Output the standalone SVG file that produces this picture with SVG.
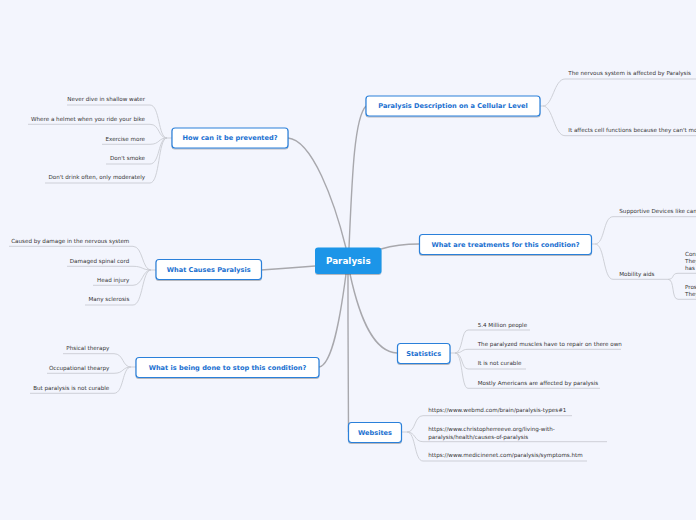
<svg xmlns="http://www.w3.org/2000/svg" width="696" height="520" viewBox="0 0 696 520">
<defs>
<filter id="sh" x="-10%" y="-30%" width="120%" height="170%">
<feDropShadow dx="0" dy="1" stdDeviation="0.7" flood-color="#000" flood-opacity="0.25"/>
</filter>
</defs>
<style>
.main{fill:#fff;stroke:#2b80da;stroke-width:1.2}
.mt{font-family:"DejaVu Sans",Verdana,sans-serif;font-weight:bold;font-size:6.6px;fill:#1a70d0;text-anchor:middle}
.st{font-family:"DejaVu Sans",Verdana,sans-serif;font-size:5.6px;fill:#333}
.r{text-anchor:end}
.mc{fill:none;stroke:#a8a8ad;stroke-width:1.4}
.sc{fill:none;stroke:#c9ccd3;stroke-width:0.9}
</style>
<rect width="696" height="520" fill="#f3f5fd"/>
<g id="connectors">
<path class="mc" d="M349,248 C352,180 354,118 366,106"/>
<path class="mc" d="M288,138 C312,140 334,200 346,248"/>
<path class="mc" d="M381,249 Q398,244 419,244"/>
<path class="mc" d="M261,270 Q290,268 315,266"/>
<path class="mc" d="M319,367 C332,365 340,320 346,274"/>
<path class="mc" d="M350,274 C360,320 374,352 397,353"/>
<path class="mc" d="M348,274 C348,330 348,400 348.5,432"/>
<path class="sc" d="M67,105 H150 C160,105 158,138 167,138 H172"/>
<path class="sc" d="M28,124.3 H150 C160,124.3 158,138 167,138"/>
<path class="sc" d="M102,144.3 H150 C160,144.3 158,138 167,138"/>
<path class="sc" d="M106,164 H150 C160,164 158,138 167,138"/>
<path class="sc" d="M45,183 H150 C160,183 158,138 167,138"/>
<path class="sc" d="M9,246.3 H133 C143,246.3 142,270 151,270 H156"/>
<path class="sc" d="M67,266.3 H133 C143,266.3 142,270 151,270"/>
<path class="sc" d="M93,285.3 H133 C143,285.3 142,270 151,270"/>
<path class="sc" d="M85,305 H133 C143,305 142,270 151,270"/>
<path class="sc" d="M63,353.7 H114 C124,353.7 122,367 131,367 H136"/>
<path class="sc" d="M47,373.3 H114 C124,373.3 122,367 131,367"/>
<path class="sc" d="M30,393.3 H114 C124,393.3 122,367 131,367"/>
<path class="sc" d="M540,106 H543 C553,106 554,79 565,79 H696"/>
<path class="sc" d="M543,106 C553,106 554,135.7 565,135.7 H696"/>
<path class="sc" d="M592,244 H595 C605,244 603,216.7 613,216.7 H696"/>
<path class="sc" d="M595,244 C605,244 603,279.3 613,279.3 H668 C675,279.3 671,273.3 678,273.3 H696"/>
<path class="sc" d="M668,279.3 C675,279.3 671,299.3 678,299.3 H696"/>
<path class="sc" d="M450,353 H455 C463,353 461,330 468,330 H530"/>
<path class="sc" d="M455,353 C463,353 461,349.3 468,349.3 H621"/>
<path class="sc" d="M455,353 C463,353 461,369 468,369 H526"/>
<path class="sc" d="M455,353 C463,353 461,388.3 468,388.3 H600"/>
<path class="sc" d="M401.7,432 H407 C416,432 414,415.7 423,415.7 H572"/>
<path class="sc" d="M407,432 C416,432 414,441.7 423,441.7 H607"/>
<path class="sc" d="M407,432 C416,432 414,461 423,461 H587"/>
</g>
<g id="center">
<rect x="315" y="247.5" width="66.5" height="26.5" rx="3" fill="#1b95e8" filter="url(#sh)"/>
<text x="348.3" y="263.8" font-family="DejaVu Sans,Verdana,sans-serif" font-weight="bold" font-size="8.8" fill="#fff" text-anchor="middle">Paralysis</text>
</g>
<g id="n-desc">
<rect class="main" x="366" y="96" width="174" height="20" rx="3" filter="url(#sh)"/>
<text class="mt" x="453" y="108.3">Paralysis Description on a Cellular Level</text>
</g>
<g id="n-prevent">
<rect class="main" x="172" y="128" width="116" height="20" rx="3" filter="url(#sh)"/>
<text class="mt" x="230" y="140.3">How can it be prevented?</text>
</g>
<g id="n-treat">
<rect class="main" x="419.5" y="234.5" width="172" height="20" rx="3" filter="url(#sh)"/>
<text class="mt" x="505.5" y="246.8">What are treatments for this condition?</text>
</g>
<g id="n-causes">
<rect class="main" x="156" y="259.5" width="105.5" height="20" rx="3" filter="url(#sh)"/>
<text class="mt" x="208.7" y="271.8">What Causes Paralysis</text>
</g>
<g id="n-done">
<rect class="main" x="136" y="357.5" width="183" height="20" rx="3" filter="url(#sh)"/>
<text class="mt" x="227.5" y="369.8">What is being done to stop this condition?</text>
</g>
<g id="n-stats">
<rect class="main" x="397.5" y="343.5" width="52.5" height="20" rx="3" filter="url(#sh)"/>
<text class="mt" x="423.7" y="355.8">Statistics</text>
</g>
<g id="n-web">
<rect class="main" x="348.5" y="422.5" width="53" height="20" rx="3" filter="url(#sh)"/>
<text class="mt" x="375" y="434.8">Websites</text>
</g>
<g id="prevent-children">
<text class="st r" x="145" y="101.3">Never dive in shallow water</text>
<text class="st r" x="145" y="120.5">Where a helmet when you ride your bike</text>
<text class="st r" x="145" y="140.5">Exercise more</text>
<text class="st r" x="145" y="160.2">Don't smoke</text>
<text class="st r" x="145" y="179.2">Don't drink often, only moderately</text>
</g>
<g id="causes-children">
<text class="st r" x="129.3" y="242.5">Caused by damage in the nervous system</text>
<text class="st r" x="129.3" y="262.5">Damaged spinal cord</text>
<text class="st r" x="129.3" y="281.5">Head injury</text>
<text class="st r" x="129.3" y="301.2">Many sclerosis</text>
</g>
<g id="done-children">
<text class="st r" x="109.3" y="350">Phsical therapy</text>
<text class="st r" x="109.3" y="369.5">Occupational thearpy</text>
<text class="st r" x="109.3" y="389.5">But paralysis is not curable</text>
</g>
<g id="desc-children">
<text class="st" x="568.3" y="75.2">The nervous system is affected by Paralysis</text>
<text class="st" x="568.3" y="131.9">It affects cell functions because they can't move</text>
</g>
<g id="treat-children">
<text class="st" x="619.3" y="212.9">Supportive Devices like canes</text>
<text class="st" x="619.3" y="275.5">Mobility aids</text>
<text class="st" x="685" y="256.3">Cons</text>
<text class="st" x="685" y="263">They</text>
<text class="st" x="685" y="269.7">has</text>
<text class="st" x="685" y="289">Pros</text>
<text class="st" x="685" y="295.7">They</text>
</g>
<g id="stats-children">
<text class="st" x="477.7" y="326.5">5.4 Million people</text>
<text class="st" x="477.7" y="345.6">The paralyzed  muscles have to repair on there own</text>
<text class="st" x="477.7" y="365.3">It is not curable</text>
<text class="st" x="477.7" y="384.6">Mostly Americans are affected by paralysis</text>
</g>
<g id="web-children">
<text class="st" x="428.3" y="412">https://www.webmd.com/brain/paralysis-types#1</text>
<text class="st" x="428.3" y="431.4">https://www.christopherreeve.org/living-with-</text>
<text class="st" x="428.3" y="438.8">paralysis/health/causes-of-paralysis</text>
<text class="st" x="428.3" y="457.3">https://www.medicinenet.com/paralysis/symptoms.htm</text>
</g>
</svg>
